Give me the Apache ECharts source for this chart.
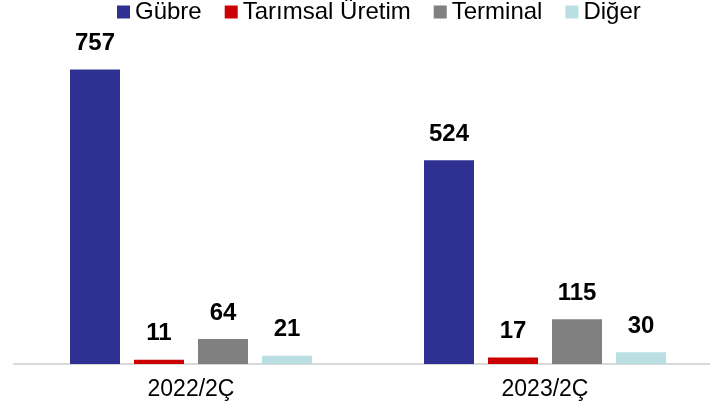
<!DOCTYPE html>
<html>
<head>
<meta charset="utf-8">
<script src="https://cdn.jsdelivr.net/npm/echarts@6/dist/echarts.min.js"></script>
<style>
  html, body { margin: 0; padding: 0; background: #fff; }
  #chart { width: 710px; height: 411px; }
</style>
</head>
<body>
<div id="chart"></div>
<script>
// Quarterly volumes by segment
const categories = ['2022/2Ç', '2023/2Ç'];
const seriesNames = ['Gübre', 'Tarımsal Üretim', 'Terminal', 'Diğer'];
const gubre = [757, 524];
const tarimsalUretim = [11, 17];
const terminal = [64, 115];
const diger = [21, 30];

const seriesValues = [gubre, tarimsalUretim, terminal, diger];
const colors = ['#2E3192', '#CC0000', '#808080', '#B9DFE3'];
const font = 'Arial, "Liberation Sans", sans-serif';

const chart = echarts.init(document.getElementById('chart'), null, { renderer: 'canvas' });

chart.setOption({
  animation: false,
  color: colors,
  legend: {
    top: 0,
    left: 117,
    padding: 0,
    itemWidth: 13,
    itemHeight: 13,
    itemGap: 23,
    icon: 'rect',
    textStyle: { fontFamily: font, fontSize: 24, color: '#000' },
    data: seriesNames
  },
  // plot area runs a little past the right edge of the canvas
  grid: { left: 14, width: 708, top: 14, bottom: 47, containLabel: false, outerBoundsMode: 'none' },
  xAxis: {
    type: 'category',
    data: categories,
    axisLine: { lineStyle: { color: '#D9D9D9', width: 2 } },
    axisTick: { show: false },
    axisLabel: { fontFamily: font, fontSize: 23, color: '#000', margin: 14 }
  },
  yAxis: {
    type: 'value',
    min: 0,
    max: 900,
    show: false,
    splitLine: { show: false }
  },
  series: seriesNames.map((name, i) => ({
    name: name,
    type: 'bar',
    data: seriesValues[i],
    barWidth: 50,
    barGap: '28%',
    itemStyle: { color: colors[i] },
    label: {
      show: true,
      position: 'top',
      distance: 14,
      fontFamily: font,
      fontSize: 24,
      fontWeight: 'bold',
      color: '#000'
    }
  }))
});
</script>
</body>
</html>
